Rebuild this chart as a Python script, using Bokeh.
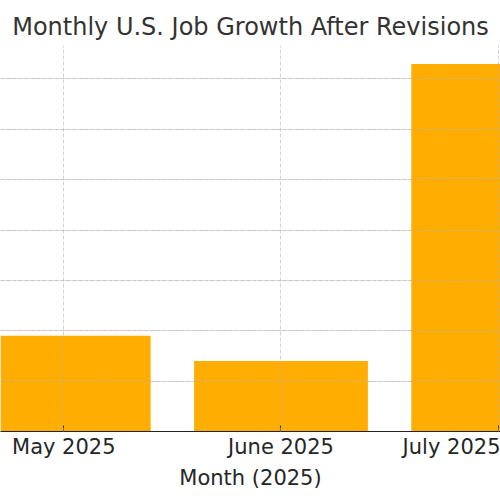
from bokeh.plotting import figure
from bokeh.models import Range1d, FixedTicker, Grid, SingleIntervalTicker, Title
from bokeh.embed import file_html
from bokeh.resources import INLINE

# Data (thousands of jobs, after revisions)
months = ["May 2025", "June 2025", "July 2025"]
jobs = [19, 14, 73]
xpos = list(range(len(months)))

p = figure(width=500, height=500, output_backend="svg", toolbar_location=None,
           x_range=Range1d(-0.2914, 2.0106), y_range=Range1d(0, 76.65),
           y_axis_location=None, min_border_left=0, min_border_right=0,
           min_border_top=45, min_border_bottom=69)

p.add_layout(Title(text="Monthly U.S. Job Growth After Revisions",
                   text_font="DejaVu Sans", text_font_size="24px",
                   text_font_style="normal", text_color="#333333",
                   align="center", standoff=10), "above")

p.vbar(x=xpos, top=jobs, width=0.8, fill_color="#ffad00", line_color=None)

p.outline_line_color = None

# x axis
ax = p.xaxis[0]
ax.ticker = FixedTicker(ticks=xpos)
ax.major_label_overrides = {i: m for i, m in enumerate(months)}
ax.axis_label = "Month (2025)"
ax.axis_label_text_font = "DejaVu Sans"
ax.axis_label_text_font_size = "21px"
ax.axis_label_text_font_style = "normal"
ax.axis_label_text_color = "#262626"
ax.axis_label_standoff = 4
ax.major_label_text_font = "DejaVu Sans"
ax.major_label_text_font_size = "21px"
ax.major_label_text_color = "#262626"
ax.major_label_standoff = 3
ax.axis_line_color = "#222222"
ax.axis_line_width = 1.2
ax.major_tick_in = 6
ax.major_tick_out = 0
ax.major_tick_line_color = "#222222"
ax.minor_tick_line_color = None

# grid drawn over the bars
p.xgrid.grid_line_color = "#b0b0b0"
p.xgrid.grid_line_alpha = 0.7
p.xgrid.grid_line_dash = "4 2"
p.xgrid.grid_line_width = 0.8
p.xgrid.level = "overlay"

yg = Grid(dimension=1, ticker=SingleIntervalTicker(interval=10),
          grid_line_color="#b0b0b0", grid_line_alpha=0.7,
          grid_line_dash="4 2", grid_line_width=0.8, level="overlay")
p.add_layout(yg)

open("out.html", "w").write(file_html(p, INLINE))
